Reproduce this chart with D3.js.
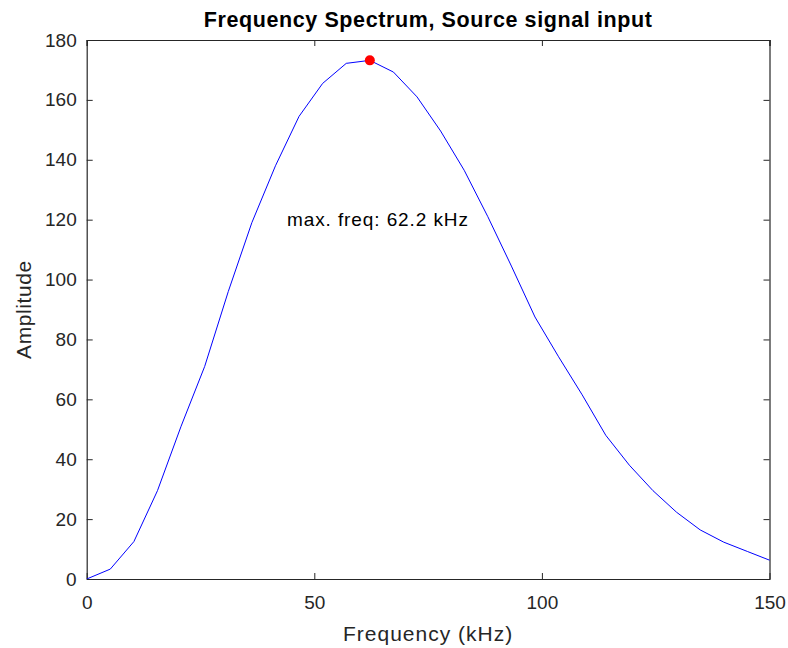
<html>
  <head>
    <title>Frequency Spectrum</title>
    <style>
      body { margin: 0; background: #fff; }
      text { font-family: "Liberation Sans", Arial, sans-serif; }
      .axis path, .axis line { stroke: #262626; }
      .axis text { fill: #262626; font-size: 19px; }
    </style>
  </head>
  <body>
    <script type="text/javascript" src="https://d3js.org/d3.v7.min.js"></script>
    <script type="text/javascript">
    // spectrum samples
    var freq = [0, 5.18, 10.37, 15.55, 20.73, 25.92, 31.1, 36.28, 41.47, 46.65,
                51.83, 57.02, 62.2, 67.38, 72.57, 77.75, 82.93, 88.12, 93.3, 98.48,
                103.67, 108.85, 114.03, 119.22, 124.4, 129.58, 134.77, 139.95, 145.13, 150.32];
    var amp = [0, 3.3, 12.5, 29.5, 51, 71, 96, 119, 138, 154.5,
               165.5, 172.2, 173.2, 169.3, 161, 149.6, 136.5, 121, 104.5, 87.5,
               74.2, 61.5, 48, 38, 29.5, 22.3, 16.4, 12.3, 9.2, 6.1];
    var xTicks = [0, 50, 100, 150];
    var yTicks = [0, 20, 40, 60, 80, 100, 120, 140, 160, 180];
    var peakFreq = 62.2, peakAmp = 173.2;
    var labelFreq = 44, labelAmp = 120;

    var W = 788, H = 648,
        margin = { top: 40, right: 18.5, bottom: 69, left: 86.7 },
        width = W - margin.left - margin.right,
        height = H - margin.top - margin.bottom;

    var data = freq.map(function(f, i) { return { f: f, a: amp[i] }; });

    var x = d3.scaleLinear().domain([0, 150]).range([0, width]);
    var y = d3.scaleLinear().domain([0, 180]).range([height, 0]);

    var svg = d3.select('body').append('svg')
        .attr('width', W).attr('height', H)
      .append('g')
        .attr('transform', "translate(" + margin.left + "," + margin.top + ")");

    svg.append('defs').append('clipPath').attr('id', 'clip')
      .append('rect').attr('width', width).attr('height', height);

    // box ticks on top and right, no labels
    svg.append('g').attr('class', 'axis')
      .call(d3.axisTop(x).tickValues(xTicks).tickSize(-6).tickFormat(''));
    svg.append('g').attr('class', 'axis')
      .attr('transform', "translate(" + width + ",0)")
      .call(d3.axisRight(y).tickValues(yTicks).tickSize(-6).tickFormat(''));

    svg.append('g').attr('class', 'axis')
      .attr('transform', "translate(0," + height + ")")
      .call(d3.axisBottom(x).tickValues(xTicks).tickSize(-6).tickPadding(17).tickSizeOuter(0));
    svg.append('g').attr('class', 'axis')
      .call(d3.axisLeft(y).tickValues(yTicks).tickSize(-6).tickPadding(10).tickSizeOuter(0));

    svg.selectAll('.axis path').attr('stroke-width', 1.2);

    var line = d3.line()
      .x(function(d) { return x(d.f); })
      .y(function(d) { return y(d.a); });

    svg.append('path')
      .datum(data)
      .attr('clip-path', 'url(#clip)')
      .attr('fill', 'none')
      .attr('stroke', '#0000ff')
      .attr('stroke-width', 1)
      .attr('d', line);

    svg.append('circle')
      .attr('cx', x(peakFreq)).attr('cy', y(peakAmp))
      .attr('r', 5).attr('fill', '#ff0000');

    svg.append('text')
      .attr('x', x(labelFreq)).attr('y', y(labelAmp))
      .attr('dy', '0.35em')
      .attr('font-size', 19).attr('letter-spacing', 0.9).attr('fill', '#000')
      .text('max. freq: ' + peakFreq + ' kHz');

    svg.append('text')
      .attr('x', width / 2).attr('y', -13.3)
      .attr('text-anchor', 'middle')
      .attr('font-size', 21.5).attr('letter-spacing', 0.6)
      .attr('font-weight', 'bold').attr('fill', '#000')
      .text('Frequency Spectrum, Source signal input');

    svg.append('text')
      .attr('x', width / 2).attr('y', height + 62)
      .attr('text-anchor', 'middle')
      .attr('font-size', 21).attr('letter-spacing', 1).attr('fill', '#262626')
      .text('Frequency (kHz)');

    svg.append('text')
      .attr('transform', "translate(" + (-56) + "," + (height / 2) + ") rotate(-90)")
      .attr('text-anchor', 'middle')
      .attr('font-size', 21).attr('letter-spacing', 0.6).attr('fill', '#262626')
      .text('Amplitude');
    </script>
  </body>
</html>
